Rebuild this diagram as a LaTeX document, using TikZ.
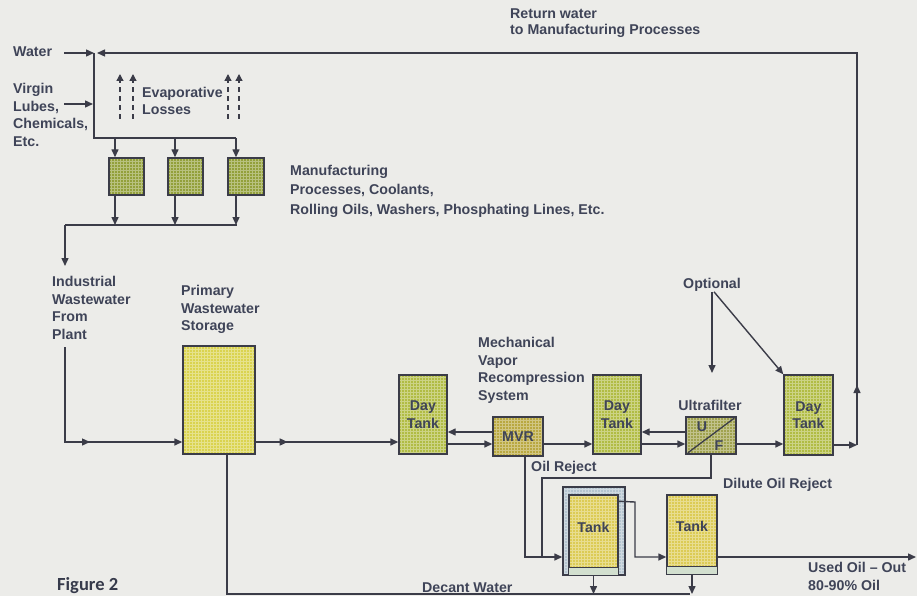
\documentclass[tikz,border=0pt]{standalone}
\usepackage{fontspec}
\setmainfont{Liberation Sans}
\newfontfamily\figfont{Carlito}
\usetikzlibrary{arrows.meta,decorations.markings,calc}
\definecolor{paper}{HTML}{ECECE9}
\definecolor{ink}{HTML}{3B3C48}
\definecolor{txt}{HTML}{3F4458}
\definecolor{procfill}{HTML}{93A03A}
\definecolor{dayfill}{HTML}{B1BC44}
\definecolor{mvrfill}{HTML}{B9A840}
\definecolor{uffill}{HTML}{A0A24E}
\definecolor{primfill}{HTML}{DAD34F}
\definecolor{tankfill}{HTML}{DCCB55}
\definecolor{stripfill}{HTML}{D2DFCF}
\definecolor{bandfill}{HTML}{B4C4CF}
\begin{document}
\begin{tikzpicture}[x=1pt,y=-1pt,
  lbl/.style={font=\bfseries\fontsize{14.2}{17.6}\selectfont, text=txt, align=left, inner sep=0pt},
  pipe/.style={draw=ink, line width=1.4pt},
  tip/.style={-{Triangle[length=8pt,width=7pt]}},
  arr/.style={pipe, tip},
  midarr/.style={postaction=decorate, decoration={markings, mark=at position #1 with {\arrow{Triangle[length=8pt,width=7pt]}}}},
  evap/.style={draw=ink, line width=1.3pt, dash pattern=on 5pt off 4pt, -{Triangle[length=7pt,width=7pt]}},
  gridded/.style={path picture={\draw[white, opacity=0.35, line width=0.4pt, step=3pt] (path picture bounding box.south west) grid (path picture bounding box.north east);}},
  box/.style={draw=ink, line width=1.4pt, inner sep=0pt, gridded, font=\bfseries\fontsize{14.2}{17.6}\selectfont, text=txt, align=center},
]
\fill[paper] (0,0) rectangle (917,596);
\useasboundingbox (0,0) rectangle (917,596);

% ---------- boxes ----------
\node[box, fill=procfill, minimum width=35, minimum height=37] (p1) at (126.5,176.5) {};
\node[box, fill=procfill, minimum width=35, minimum height=37] (p2) at (185.5,176.5) {};
\node[box, fill=procfill, minimum width=36, minimum height=37] (p3) at (246,176.5) {};
\node[box, fill=primfill, minimum width=72, minimum height=108] (prim) at (219,400) {};
\node[box, fill=dayfill, minimum width=48, minimum height=79] (day1) at (423,414.5) {Day\\Tank};
\node[box, fill=mvrfill, minimum width=50, minimum height=39] (mvr) at (518,436.5) {MVR};
\node[box, fill=dayfill, minimum width=48, minimum height=79] (day2) at (617,414.5) {Day\\Tank};
\node[box, fill=uffill, minimum width=50, minimum height=37] (uf) at (711,435.5) {};
\node[box, fill=dayfill, minimum width=49, minimum height=80] (day3) at (808.5,415) {Day\\Tank};
\node[box, fill=bandfill, minimum width=62, minimum height=88] (t1o) at (594,531) {};
\node[box, fill=tankfill, minimum width=49, minimum height=80] (t1) at (593.5,535) {};
\node[box, fill=tankfill, minimum width=50, minimum height=79] (t2) at (692,534.5) {};
\draw[ink, line width=1pt, fill=stripfill] ($(t1.south west)+(0,-8)$) rectangle (t1.south east);
\draw[ink, line width=1pt, fill=stripfill] ($(t2.south west)+(0,-8)$) rectangle (t2.south east);
\node[lbl, align=center] (t1txt) at ($(t1.center)+(0,-8)$) {Tank};
\node[lbl, align=center] (t2txt) at ($(t2.center)+(0,-8)$) {Tank};
\draw[ink, line width=1.3pt] ($(uf.south west)!0.05!(uf.north east)$) -- ($(uf.south west)!0.95!(uf.north east)$);
\node[lbl] (ufU) at (702,427) {U};
\node[lbl] (ufF) at (719,446) {F};

% ---------- labels ----------
\node[lbl, anchor=west] (water) at (13,52) {Water};
\node[lbl, anchor=north west] (virgin) at (13,83) {Virgin\\Lubes,\\Chemicals,\\Etc.};
\node[lbl, anchor=west] (evaptxt) at (142,101) {Evaporative\\Losses};
\node[lbl, anchor=north west, font=\bfseries\fontsize{14.2}{19.5}\selectfont] (mfg) at (290,165) {Manufacturing\\Processes, Coolants,\\Rolling Oils, Washers, Phosphating Lines, Etc.};
\node[lbl, anchor=north west, font=\bfseries\fontsize{14.2}{16}\selectfont] (ret) at (510,9) {Return water\\to Manufacturing Processes};
\node[lbl, anchor=north west] (ind) at (52,276) {Industrial\\Wastewater\\From\\Plant};
\node[lbl, anchor=north west] (primlbl) at (181,285) {Primary\\Wastewater\\Storage};
\node[lbl, anchor=north west] (mvrlbl) at (478,337) {Mechanical\\Vapor\\Recompression\\System};
\node[lbl] (ultra) at (710,405) {Ultrafilter};
\node[lbl] (opt) at (712,285) {Optional};
\node[lbl, anchor=west] (oilrej) at (531,468) {Oil Reject};
\node[lbl, anchor=west] (dilute) at (723,485) {Dilute Oil Reject};
\node[lbl, anchor=north west] (used) at (808,562) {Used Oil -- Out\\80-90\% Oil};
\node[lbl, anchor=west] (decant) at (422,588) {Decant Water};
\node[anchor=base west, inner sep=0pt, text=txt!85!black, font=\figfont\bfseries\fontsize{18.5}{21}\selectfont] (fig) at (57,590) {Figure 2};

% ---------- coordinates ----------
\coordinate (win) at (64,53);
\coordinate (jT) at (94,53);
\coordinate (jTr) at (97,53);
\coordinate (vin) at (64,104);
\coordinate (jV) at (93,104);
\coordinate (hL) at (94,138);
\coordinate (h1) at (115,138);
\coordinate (h2) at (175,138);
\coordinate (h3) at (236,138);
\coordinate (cL) at (65,225);
\coordinate (cR) at (237,225);
\coordinate (dn) at (65,266);
\coordinate (up) at (65,347);
\coordinate (bend) at (65,442);
\coordinate (yA) at (0,442);
\coordinate (yB) at (0,432);
\coordinate (yC) at (0,444);
\coordinate (r1) at (857,445);
\coordinate (r2) at (857,53);
\coordinate (or0) at (525,0);
\coordinate (or1) at (525,557);
\coordinate (dl1) at (711,478);
\coordinate (dl2) at (542,478);
\coordinate (dl3) at (542,557);
\coordinate (t1a) at (635,502);
\coordinate (t1b) at (635,557);
\coordinate (out) at (916,557);
\coordinate (dc0) at (227,0);
\coordinate (dc1) at (227,594);
\coordinate (dc2) at (690,594);
\coordinate (opt1) at (712,373);
\coordinate (e1a) at (120,119); \coordinate (e1b) at (120,74);
\coordinate (e2a) at (133,119); \coordinate (e2b) at (133,74);
\coordinate (e3a) at (228,119); \coordinate (e3b) at (228,74);
\coordinate (e4a) at (239,119); \coordinate (e4b) at (239,74);

% ---------- connectors ----------
\draw[arr] (win) -- (jT);
\draw[arr] (vin) -- (jV);
\draw[arr] (r1) -- (r2) -- (jTr);
\draw[pipe, midarr=60pt] (r1) -- (r2);
\draw[pipe] (jT) -- (hL) -- (h3);
\draw[arr] (h1) -- (h1 |- p1.north);
\draw[arr] (h2) -- (h2 |- p2.north);
\draw[arr] (h3) -- (h3 |- p3.north);
\draw[arr] (h1 |- p1.south) -- (h1 |- cL);
\draw[arr] (h2 |- p2.south) -- (h2 |- cL);
\draw[arr] (h3 |- p3.south) -- (h3 |- cL);
\draw[pipe] (cL) -- (cR);
\draw[arr] (cL) -- (dn);
\draw[arr, midarr=120pt] (up) -- (bend) -- (prim.west |- yA);
\draw[arr, midarr=32pt] (prim.east |- yA) -- (day1.west |- yA);
\draw[arr] (mvr.west |- yB) -- (day1.east |- yB);
\draw[arr] (day1.east |- yC) -- (mvr.west |- yC);
\draw[arr] (mvr.east |- yC) -- (day2.west |- yC);
\draw[arr] (uf.west |- yB) -- (day2.east |- yB);
\draw[arr] (day2.east |- yC) -- (uf.west |- yC);
\draw[arr] (uf.east |- yC) -- (day3.west |- yC);
\draw[arr] (day3.east |- r1) -- (r1);
\draw[arr] (opt.south) -- (opt1);
\draw[arr] ($(opt.south)+(2,0)$) -- (day3.north west);
\draw[arr] (mvr.south -| or0) -- (or1) -- (t1o.west |- or1);
\draw[pipe] (uf.south) -- (dl1) -- (dl2) -- (dl3);
\draw[arr] ($(t1.north east)+(0,7)$) -- (t1a) -- (t1b) -- (t2.west |- t1b);
\draw[arr] (t2.east |- t1b) -- (out);
\draw[pipe] (prim.south -| dc0) -- (dc1) -- (dc2);
\draw[arr] (t1o.south -| t1.south) -- (t1.south |- dc1);
\draw[arr] (t2.south) -- (t2.south |- dc1);
\draw[evap] (e1a) -- (e1b);
\draw[evap] (e2a) -- (e2b);
\draw[evap] (e3a) -- (e3b);
\draw[evap] (e4a) -- (e4b);
\end{tikzpicture}
\end{document}
